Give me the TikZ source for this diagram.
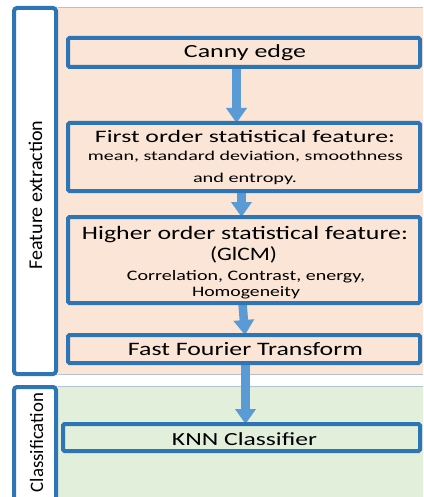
\documentclass[tikz,border=0pt]{standalone}
\usepackage{fontspec}
\setmainfont{Carlito}
\usetikzlibrary{arrows.meta}
\definecolor{bdr}{HTML}{2E75B6}
\definecolor{arw}{HTML}{5B9BD5}
\definecolor{salmon}{HTML}{FBE5D6}
\definecolor{lgreen}{HTML}{E2EFDA}
\definecolor{lanebd}{HTML}{B4C0D4}
\newcommand\fitt[3]{\resizebox{#1}{\height}{\fontsize{#2}{#2}\selectfont #3}}
\pgfdeclarelayer{bg}
\pgfsetlayers{bg,main}
\tikzset{
  box/.style={draw=bdr, line width=4pt, rounded corners=1.5pt, outer sep=0pt, inner sep=0pt},
  lbl/.style={anchor=base, inner sep=0pt, text=black},
  arr/.style={draw=arw, line width=8.5pt, -{Triangle[width=20pt,length=15pt]}},
  lanelbl/.style={draw=bdr, fill=white, line width=4pt, rounded corners=3pt, outer sep=0pt, inner sep=0pt},
}
\begin{document}
\begin{tikzpicture}[x=1pt,y=-1pt]
\useasboundingbox (0,0) rectangle (423,497);
% lane label boxes
\node[lanelbl, minimum width=42pt, minimum height=366pt] (felane) at (35,191) {};
\node[lanelbl, minimum width=42pt, minimum height=123pt] (cllane) at (35,448.5) {};
% process boxes
\node[box, fill=salmon, minimum width=352pt, minimum height=29pt] (canny) at (244,52.5) {};
\node[box, fill=salmon, minimum width=352pt, minimum height=68pt] (first) at (244,157) {};
\node[box, fill=salmon, minimum width=352pt, minimum height=86pt] (higher) at (244,260) {};
\node[box, fill=salmon, minimum width=352pt, minimum height=28pt] (fft) at (244,349) {};
\node[box, fill=lgreen, minimum width=357pt, minimum height=27pt] (knn) at (241.5,437.5) {};
% texts
\node[lbl] (t1) at (245,57.7) {\fitt{122pt}{18.5}{Canny edge}};
\node[lbl] (t2a) at (245,142.7) {\fitt{300pt}{17.5}{First order statistical feature:}};
\node[lbl] (t2b) at (245.5,160.7) {\fitt{315pt}{13.5}{mean, standard deviation, smoothness}};
\node[lbl] (t2c) at (245,182.7) {\fitt{104pt}{13.5}{and entropy.}};
\node[lbl] (t3a) at (245,239) {\fitt{326pt}{19}{Higher order statistical feature:}};
\node[lbl] (t3b) at (243.5,260.7) {\fitt{67pt}{19}{(GlCM)}};
\node[lbl] (t3c) at (246,280.7) {\fitt{238pt}{14.5}{Correlation, Contrast, energy,}};
\node[lbl] (t3d) at (246,296.7) {\fitt{108pt}{14.5}{Homogeneity}};
\node[lbl] (t4) at (245.5,355.7) {\fitt{235pt}{19}{Fast Fourier Transform}};
\node[lbl] (t5) at (244.5,445) {\fitt{145pt}{18.5}{KNN Classifier}};
\node[lbl, rotate=90] (fel) at (42,195) {\fitt{149pt}{19.5}{Feature extraction}};
\node[lbl, rotate=90] (cll) at (43,442.5) {\fitt{99pt}{19}{Classification}};
% arrow columns
\coordinate (a1) at (236.5,0);
\coordinate (a2) at (241.5,0);
\coordinate (a3s) at (242.5,0);
\coordinate (a3e) at (245,0);
\coordinate (a4) at (245.5,0);
\begin{pgfonlayer}{bg}
  \fill[white] (0,0) rectangle (423,497);
  \fill[salmon] (58,7) rectangle (423,374);
  \draw[lanebd, line width=0.6pt] (58,7) -- (423,7) (58,374) -- (423,374);
  \fill[lgreen] (58,386) rectangle (423,497);
  \draw[lanebd, line width=0.6pt] (58,386) -- (423,386);
  \draw[arr] (canny.south -| a1) -- (first.north -| a1);
  \draw[arr] (first.south -| a2) -- (higher.north -| a2);
  \draw[arr] (higher.south -| a3s) -- (fft.north -| a3e);
  \draw[arr] (fft.south -| a4) -- (knn.north -| a4);
\end{pgfonlayer}
\end{tikzpicture}
\end{document}
